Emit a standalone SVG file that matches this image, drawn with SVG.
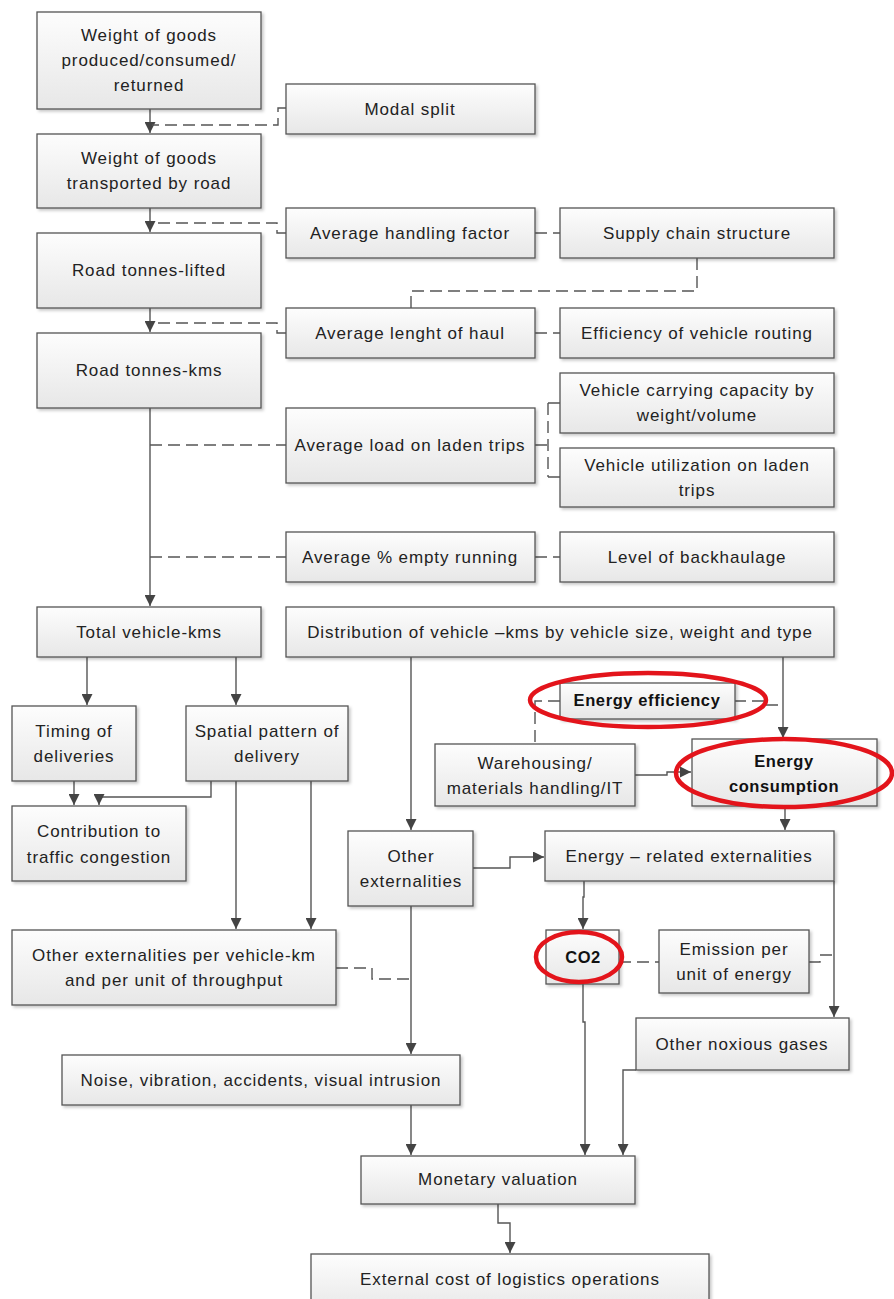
<svg xmlns="http://www.w3.org/2000/svg" width="894" height="1299" viewBox="0 0 894 1299">
<defs>
<linearGradient id="g" x1="0" y1="0" x2="0" y2="1">
<stop offset="0" stop-color="#fdfdfd"/>
<stop offset="1" stop-color="#e7e7e7"/>
</linearGradient>
<filter id="sh" x="-5%" y="-5%" width="115%" height="125%">
<feDropShadow dx="2" dy="2" stdDeviation="1.5" flood-color="#000" flood-opacity="0.22"/>
</filter>
<marker id="ah" markerUnits="userSpaceOnUse" markerWidth="11" markerHeight="11" viewBox="0 0 10 10" refX="10" refY="5" orient="auto">
<path d="M0,0 L10,5 L0,10 z" fill="#444"/>
</marker>
</defs>
<style>
.box rect{fill:url(#g);stroke:#555;stroke-width:1.3;filter:url(#sh)}
.box text{font-family:"Liberation Sans",Arial,sans-serif;font-size:17px;letter-spacing:0.9px;fill:#222;text-anchor:middle;dominant-baseline:central}
.box text.b{font-weight:bold;font-size:16.5px;letter-spacing:0.6px;fill:#111}
.c path{fill:none;stroke:#555;stroke-width:1.4}
.c .s{marker-end:url(#ah)}
.c .d{stroke-dasharray:12,6}
.hl ellipse{fill:none;stroke:#e3141b;stroke-width:4.5}
</style>
<rect width="894" height="1299" fill="#fff"/>

<g class="c" id="connectors">
<path class="s" d="M150,109 V133"/>
<path class="s" d="M150,208 V232"/>
<path class="s" d="M150,308 V332"/>
<path class="s" d="M150,408 V606"/>
<path class="s" d="M87,657 V705"/>
<path class="s" d="M236,657 V705"/>
<path class="s" d="M74,781 V805"/>
<path class="s" d="M211,781 V797 H99 V805"/>
<path class="s" d="M236,781 V929"/>
<path class="s" d="M311,781 V929"/>
<path class="s" d="M411,657 V830"/>
<path class="s" d="M783,657 V738"/>
<path class="s" d="M635,775 H667 V772 H691"/>
<path class="s" d="M785,806 V830"/>
<path class="s" d="M473,868 H510 V857 H544"/>
<path class="s" d="M584,881 V897 H583 V929"/>
<path class="s" d="M834,881 V1017"/>
<path class="s" d="M411,906 V1054"/>
<path class="s" d="M583,984 V1022 H585 V1155"/>
<path class="s" d="M636,1070 H623 V1155"/>
<path class="s" d="M411,1105 V1155"/>
<path class="s" d="M498,1204 V1223 H510 V1253"/>
<path class="d" d="M286,108 H278 V125 H152"/>
<path class="d" d="M286,233 H277 V223 H152"/>
<path class="d" d="M286,333 H277 V323 H152"/>
<path class="d" d="M697,258 V291 H411 V308"/>
<path class="d" d="M535,233 H560"/>
<path class="d" d="M535,333 H560"/>
<path class="d" d="M150,445 H286"/>
<path class="d" d="M535,445 H548 M548,403 V477 M548,403 H560 M548,477 H560"/>
<path class="d" d="M150,557 H286"/>
<path class="d" d="M535,557 H560"/>
<path class="d" d="M560,701 H535 V744"/>
<path class="d" d="M734,701 H766 V705 H783"/>
<path class="d" d="M619,962 H659"/>
<path class="d" d="M809,962 H820 V955 H834"/>
<path class="d" d="M336,968 H372 V979 H411"/>
</g>

<g class="box" id="n-weight-produced"><rect x="37" y="12" width="224" height="97"/><text x="149" y="35">Weight of goods</text><text x="149" y="60">produced/consumed/</text><text x="149" y="85">returned</text></g>
<g class="box" id="n-modal-split"><rect x="286" y="84" width="249" height="50"/><text x="410" y="109">Modal split</text></g>
<g class="box" id="n-weight-road"><rect x="37" y="134" width="224" height="74"/><text x="149" y="158">Weight of goods</text><text x="149" y="183">transported by road</text></g>
<g class="box" id="n-handling"><rect x="286" y="208" width="249" height="50"/><text x="410" y="233">Average handling factor</text></g>
<g class="box" id="n-supply"><rect x="560" y="208" width="274" height="50"/><text x="697" y="233">Supply chain structure</text></g>
<g class="box" id="n-tonnes-lifted"><rect x="37" y="233" width="224" height="75"/><text x="149" y="270">Road tonnes-lifted</text></g>
<g class="box" id="n-haul"><rect x="286" y="308" width="249" height="50"/><text x="410" y="333">Average lenght of haul</text></g>
<g class="box" id="n-routing"><rect x="560" y="308" width="274" height="50"/><text x="697" y="333">Efficiency of vehicle routing</text></g>
<g class="box" id="n-tonnes-kms"><rect x="37" y="333" width="224" height="75"/><text x="149" y="370">Road tonnes-kms</text></g>
<g class="box" id="n-capacity"><rect x="560" y="373" width="274" height="60"/><text x="697" y="390">Vehicle carrying capacity by</text><text x="697" y="415">weight/volume</text></g>
<g class="box" id="n-load"><rect x="286" y="408" width="249" height="75"/><text x="410" y="445">Average load on laden trips</text></g>
<g class="box" id="n-utilization"><rect x="560" y="448" width="274" height="59"/><text x="697" y="465">Vehicle utilization on laden</text><text x="697" y="490">trips</text></g>
<g class="box" id="n-empty"><rect x="286" y="532" width="249" height="50"/><text x="410" y="557">Average % empty running</text></g>
<g class="box" id="n-backhaul"><rect x="560" y="532" width="274" height="50"/><text x="697" y="557">Level of backhaulage</text></g>
<g class="box" id="n-total-vkm"><rect x="37" y="607" width="224" height="50"/><text x="149" y="632">Total vehicle-kms</text></g>
<g class="box" id="n-distribution"><rect x="286" y="607" width="548" height="50"/><text x="560" y="632">Distribution of vehicle –kms by vehicle size, weight and type</text></g>
<g class="box" id="n-timing"><rect x="12" y="706" width="124" height="75"/><text x="74" y="731">Timing of</text><text x="74" y="756">deliveries</text></g>
<g class="box" id="n-spatial"><rect x="186" y="706" width="162" height="75"/><text x="267" y="731">Spatial pattern of</text><text x="267" y="756">delivery</text></g>
<g class="box" id="n-energy-eff"><rect x="560" y="683" width="175" height="36"/><text class="b" x="647" y="700">Energy efficiency</text></g>
<g class="box" id="n-warehousing"><rect x="435" y="744" width="200" height="62"/><text x="535" y="763">Warehousing/</text><text x="535" y="788">materials handling/IT</text></g>
<g class="box" id="n-energy-cons"><rect x="692" y="739" width="185" height="67"/><text class="b" x="784" y="761">Energy</text><text class="b" x="784" y="786">consumption</text></g>
<g class="box" id="n-congestion"><rect x="12" y="806" width="174" height="75"/><text x="99" y="831">Contribution to</text><text x="99" y="857">traffic congestion</text></g>
<g class="box" id="n-other-ext"><rect x="348" y="831" width="125" height="75"/><text x="411" y="856">Other</text><text x="411" y="881">externalities</text></g>
<g class="box" id="n-energy-ext"><rect x="545" y="831" width="289" height="50"/><text x="689" y="856">Energy – related externalities</text></g>
<g class="box" id="n-other-ext-vkm"><rect x="12" y="930" width="324" height="75"/><text x="174" y="955">Other externalities per vehicle-km</text><text x="174" y="980">and per unit of throughput</text></g>
<g class="box" id="n-co2"><rect x="546" y="930" width="73" height="54"/><text class="b" x="583" y="957">CO2</text></g>
<g class="box" id="n-emission"><rect x="659" y="930" width="150" height="63"/><text x="734" y="949">Emission per</text><text x="734" y="974">unit of energy</text></g>
<g class="box" id="n-noxious"><rect x="636" y="1018" width="213" height="52"/><text x="742" y="1044">Other noxious gases</text></g>
<g class="box" id="n-noise"><rect x="62" y="1055" width="398" height="50"/><text x="261" y="1080">Noise, vibration, accidents, visual intrusion</text></g>
<g class="box" id="n-monetary"><rect x="361" y="1156" width="274" height="48"/><text x="498" y="1179">Monetary valuation</text></g>
<g class="box" id="n-external-cost"><rect x="311" y="1254" width="398" height="60"/><text x="510" y="1279">External cost of logistics operations</text></g>

<g class="hl" id="highlights">
<ellipse cx="648" cy="700" rx="118" ry="27"/>
<ellipse cx="784" cy="773" rx="108" ry="34"/>
<ellipse cx="579" cy="957" rx="43" ry="25"/>
</g>
</svg>
